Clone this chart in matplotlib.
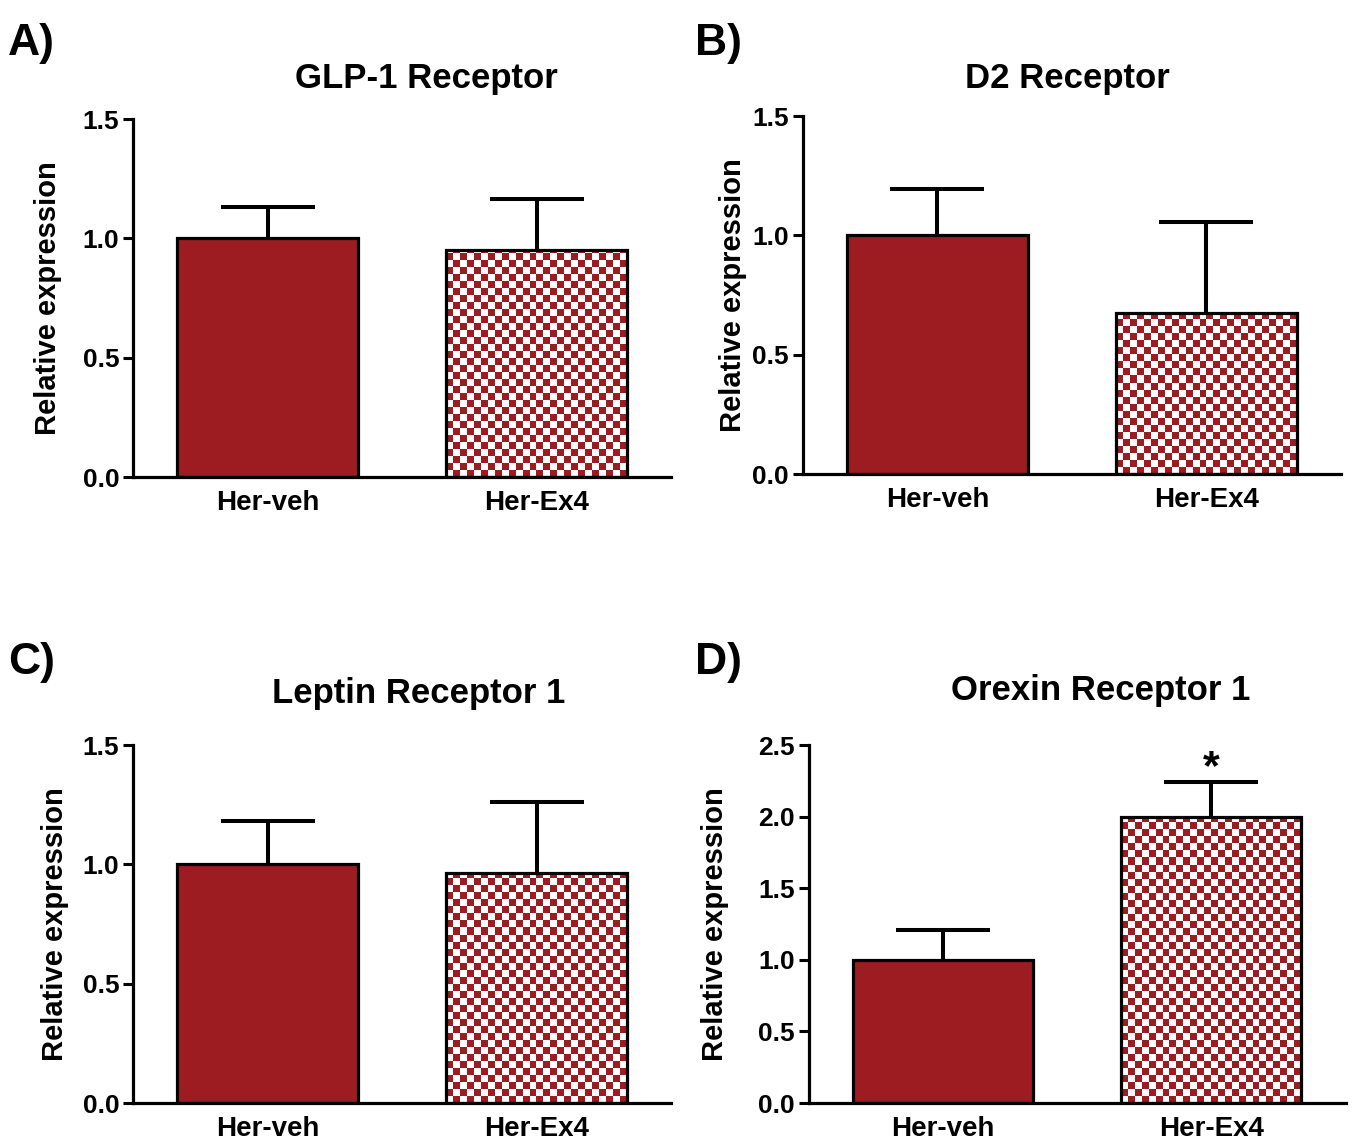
import numpy as np
import matplotlib
matplotlib.use('Agg')
import matplotlib.pyplot as plt

plt.rcParams['font.family'] = ['Liberation Sans', 'DejaVu Sans']
plt.rcParams['font.weight'] = 'bold'

# data
groups = ['Her-veh', 'Her-Ex4']
titles = ['GLP-1 Receptor', 'D2 Receptor', 'Leptin Receptor 1', 'Orexin Receptor 1']
letters = ['A)', 'B)', 'C)', 'D)']
glp1_mean = [1.00, 0.95]
glp1_err = [0.13, 0.215]
d2_mean = [1.00, 0.675]
d2_err = [0.195, 0.38]
lepr_mean = [1.00, 0.965]
lepr_err = [0.18, 0.295]
ox1_mean = [1.00, 2.00]
ox1_err = [0.21, 0.24]
ymax = [1.5, 1.5, 1.5, 2.5]
yticks = [[0, 0.5, 1.0, 1.5], [0, 0.5, 1.0, 1.5], [0, 0.5, 1.0, 1.5],
          [0, 0.5, 1.0, 1.5, 2.0, 2.5]]
signif = [None, None, None, [None, '*']]

means = [glp1_mean, d2_mean, lepr_mean, ox1_mean]
errs = [glp1_err, d2_err, lepr_err, ox1_err]

red = '#9c1c22'

# layout (figure fractions)
axes_pos = [[0.0982, 0.5812, 0.397, 0.3143],
            [0.5926, 0.5838, 0.397, 0.3143],
            [0.0982, 0.0316, 0.397, 0.3143],
            [0.5970, 0.0316, 0.396, 0.3143]]
letter_pos = [(0.006, 0.962), (0.513, 0.962), (0.006, 0.418), (0.513, 0.418)]
title_pos = [(0.315, 0.931), (0.788, 0.931), (0.309, 0.391), (0.812, 0.394)]
ylabel_pad = [15, 4, 10, 21]

fig = plt.figure(figsize=(13.55, 11.39), dpi=100)

for i in range(4):
    ax = fig.add_axes(axes_pos[i])
    x = np.arange(len(groups))
    w = 0.67
    ax.set_xlim(-0.5, 1.5)
    ax.set_ylim(0, ymax[i])

    # plain bar
    ax.bar(x[0], means[i][0], width=w, color=red, edgecolor='black',
           linewidth=2.3, zorder=2)

    # checkered bar
    b = ax.bar(x[1], means[i][1], width=w, color='white', edgecolor='none',
               zorder=2)[0]
    p0 = ax.transData.transform((x[1] - w / 2, 0))
    p1 = ax.transData.transform((x[1] + w / 2, means[i][1]))
    cell = 7.0
    nx = int(round((p1[0] - p0[0]) / cell))
    ny = int(np.ceil((p1[1] - p0[1]) / cell))
    hgt = ny * cell / (p1[1] - p0[1]) * means[i][1]
    board = (np.add.outer(np.arange(ny), np.arange(nx)) % 2)
    cmap = matplotlib.colors.ListedColormap(['white', red])
    im = ax.imshow(board, cmap=cmap, interpolation='nearest', aspect='auto',
                   extent=(x[1] - w / 2, x[1] + w / 2, 0, hgt), origin='lower',
                   zorder=2.5)
    im.set_clip_path(b)
    ax.bar(x[1], means[i][1], width=w, fill=False, edgecolor='black',
           linewidth=2.3, zorder=3)

    # upper error bars only
    eb = ax.errorbar(x, means[i], yerr=[np.zeros(2), errs[i]], fmt='none',
                     ecolor='black', elinewidth=2.9, capsize=34, capthick=2.9,
                     zorder=1)
    eb[1][0].set_visible(False)

    if signif[i] is not None:
        for j, s in enumerate(signif[i]):
            if s:
                ax.text(x[j], means[i][j] + errs[i][j] - 0.015 * ymax[i], s,
                        ha='center', va='bottom', fontsize=31, fontweight='bold')

    ax.set_xlim(-0.5, 1.5)
    ax.set_ylim(0, ymax[i])
    ax.set_yticks(yticks[i])
    ax.set_yticklabels(['%.1f' % t for t in yticks[i]])
    ax.set_xticks(x)
    ax.set_xticklabels(groups, fontsize=20, fontweight='bold')
    ax.tick_params(axis='x', length=0, pad=9)
    ax.tick_params(axis='y', length=7, width=2.2, labelsize=19, pad=3)
    for lab in ax.get_yticklabels():
        lab.set_fontweight('bold')
    for s in ['top', 'right']:
        ax.spines[s].set_visible(False)
    for s in ['left', 'bottom']:
        ax.spines[s].set_linewidth(2.3)
    ax.spines['left'].set_bounds(0, ymax[i])
    ax.set_ylabel('Relative expression', fontsize=21, fontweight='bold',
                  labelpad=ylabel_pad[i])

    fig.text(title_pos[i][0], title_pos[i][1], titles[i], ha='center',
             va='center', fontsize=25, fontweight='bold')
    fig.text(letter_pos[i][0], letter_pos[i][1], letters[i], ha='left',
             va='center', fontsize=32, fontweight='bold')

fig.savefig('out.png', dpi=100)
